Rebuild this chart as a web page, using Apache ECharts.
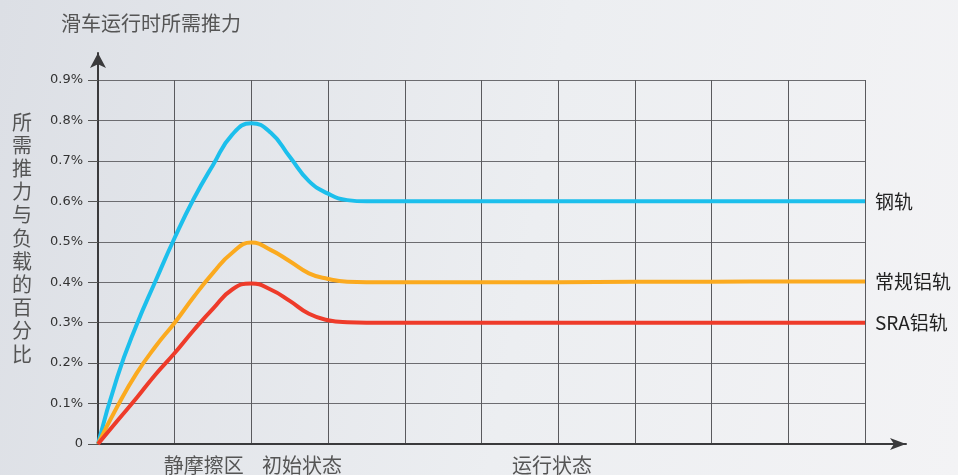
<!DOCTYPE html>
<html>
<head>
<meta charset="utf-8">
<script src="https://cdn.jsdelivr.net/npm/echarts@6/dist/echarts.min.js"></script>
<style>
  html, body { margin: 0; padding: 0; }
  body { background: linear-gradient(100deg, #dcdfe5 0%, #eceef1 55%, #f3f3f5 100%); }
  #main { width: 958px; height: 475px; }
</style>
</head>
<body>
<div id="main"></div>
<script>
// x positions in grid cells (0..10), values in percent
const xPos = [0, 0.25, 0.5, 0.75, 1, 1.25, 1.5, 1.75, 2, 2.25, 2.5, 2.75, 3, 3.25, 3.5, 4, 5, 6, 7, 8, 9, 10]
const steel = [0, 0.165, 0.293, 0.403, 0.51, 0.607, 0.69, 0.765, 0.793, 0.77, 0.71, 0.65, 0.619, 0.603, 0.6, 0.6, 0.6, 0.6, 0.6, 0.6, 0.6, 0.6]
const alu = [0, 0.092, 0.174, 0.241, 0.3, 0.364, 0.423, 0.473, 0.498, 0.48, 0.452, 0.422, 0.408, 0.401, 0.4, 0.4, 0.4, 0.4, 0.401, 0.401, 0.402, 0.402]
const sra = [0, 0.057, 0.113, 0.172, 0.225, 0.282, 0.335, 0.382, 0.397, 0.382, 0.354, 0.322, 0.306, 0.301, 0.3, 0.3, 0.3, 0.3, 0.3, 0.3, 0.3, 0.3]
const seriesNames = ['钢轨', '常规铝轨', 'SRA铝轨']
const seriesColors = ['#1cbfec', '#fbaa1f', '#ee3b2a']
const phaseLabels = [
  { text: '静摩擦区', x: 1.38 },
  { text: '初始状态', x: 2.66 },
  { text: '运行状态', x: 5.92 }
]
const yName = '所需推力与负载的百分比'

const cjk = '"Noto Sans CJK SC", "Noto Sans", sans-serif'

const chartDom = document.getElementById('main')
const myChart = echarts.init(chartDom, null, { renderer: 'canvas' })

const pairs = (vals) => xPos.map((x, i) => [x, vals[i]])

myChart.setOption({
  animation: false,
  backgroundColor: 'transparent',
  title: {
    text: '滑车运行时所需推力',
    left: 56,
    top: 8,
    textStyle: { fontFamily: cjk, fontSize: 20, fontWeight: 'normal', color: '#555' }
  },
  grid: [
    { left: 98, top: 80, right: 93, bottom: 31 },
    { left: 98, top: 53, right: 52, bottom: 31 }
  ],
  xAxis: [
    {
      gridIndex: 0,
      type: 'value',
      min: 0,
      max: 10,
      interval: 1,
      axisLine: { show: false },
      axisTick: { show: false },
      axisLabel: { show: false },
      splitLine: { show: true, lineStyle: { color: '#5a5a5e', width: 1 } }
    },
    {
      gridIndex: 1,
      type: 'value',
      min: 0,
      max: 1,
      axisLine: { show: true, symbol: ['none', 'arrow'], symbolSize: [9, 16], lineStyle: { color: '#3a3a3c', width: 2 } },
      axisTick: { show: false },
      axisLabel: { show: false },
      splitLine: { show: false }
    }
  ],
  yAxis: [
    {
      gridIndex: 0,
      type: 'value',
      min: 0,
      max: 0.9,
      interval: 0.1,
      axisLine: { show: false },
      axisTick: { show: true, length: 10, lineStyle: { color: '#555' } },
      axisLabel: {
        margin: 15,
        fontFamily: 'DejaVu Sans',
        fontSize: 13,
        color: '#333',
        formatter: (v) => (v === 0 ? '0' : v.toFixed(1) + '%')
      },
      splitLine: { show: true, lineStyle: { color: '#6c6c70', width: 1 } }
    },
    {
      gridIndex: 1,
      type: 'value',
      min: 0,
      max: 1,
      axisLine: { show: true, symbol: ['none', 'arrow'], symbolSize: [12, 15], lineStyle: { color: '#3a3a3c', width: 2 } },
      axisTick: { show: false },
      axisLabel: { show: false },
      splitLine: { show: false }
    }
  ],
  series: [steel, alu, sra].map((vals, i) => ({
    name: seriesNames[i],
    type: 'line',
    xAxisIndex: 0,
    yAxisIndex: 0,
    data: pairs(vals),
    smooth: 0.5,
    showSymbol: false,
    lineStyle: { color: seriesColors[i], width: 4 },
    itemStyle: { color: seriesColors[i] },
    endLabel: {
      show: true,
      formatter: '{a}',
      distance: 10,
      fontFamily: cjk,
      fontSize: 19,
      color: '#222'
    }
  }))
})

// text placed from the axis scale
const graphics = phaseLabels.map((p) => {
  const pt = myChart.convertToPixel({ xAxisIndex: 0, yAxisIndex: 0 }, [p.x, 0])
  return {
    type: 'text',
    x: pt[0],
    y: pt[1] + 21,
    style: {
      text: p.text,
      font: '20px ' + cjk,
      fill: '#555',
      align: 'center',
      verticalAlign: 'middle'
    }
  }
})
graphics.push({
  type: 'text',
  x: 22,
  y: 238,
  style: {
    text: yName.split('').join('\n'),
    font: '20px ' + cjk,
    lineHeight: 23.2,
    fill: '#555',
    align: 'center',
    verticalAlign: 'middle'
  }
})
myChart.setOption({ graphic: graphics })
</script>
</body>
</html>
